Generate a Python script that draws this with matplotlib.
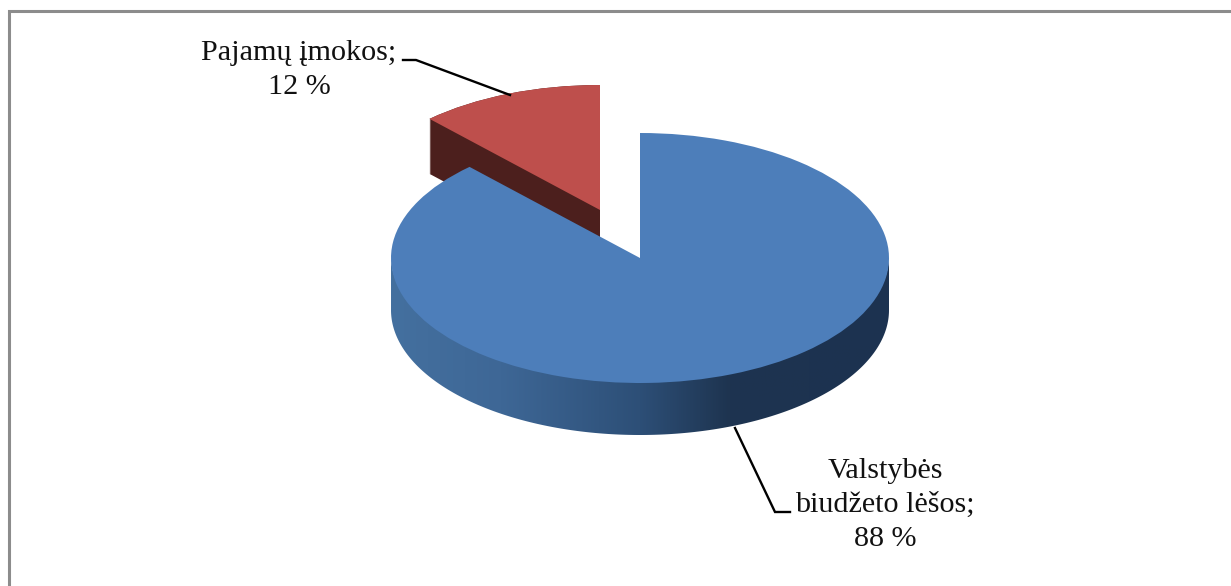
import numpy as np
import matplotlib
matplotlib.use("Agg")
import matplotlib.pyplot as plt
from matplotlib.colors import LinearSegmentedColormap
from matplotlib.patches import Polygon

labels = ["Valstybės\nbiudžeto lėšos;\n88 %", "Pajamų įmokos;\n12 %"]
values = [88, 12]
colors = ["#4D7EBA", "#BE4F4C"]

W, H = 1231, 586
CX, CY, RX, RY = 640, 258, 249, 125
DEPTH = 52


def ux(px):
    return (px - CX) / RX


def uy(py):
    return (CY - py) / RY


fig = plt.figure(figsize=(W / 100, H / 100), dpi=100, facecolor="white")
ax = fig.add_axes([0, 0, 1, 1])

# exploded slice: extruded dark side, then top face
red_center = (ux(600), uy(210))
for d in range(0, 56):
    ax.pie([values[1] / 100], normalize=False, startangle=90, counterclock=True,
           center=(red_center[0], red_center[1] - d / RY), colors=["#4C1F1D"],
           wedgeprops=dict(zorder=1, linewidth=0))
ax.pie([values[1] / 100], normalize=False, startangle=90, counterclock=True,
       center=red_center, colors=[colors[1]], wedgeprops=dict(zorder=2, linewidth=0))

# side wall of the large slice with a horizontal gradient
cmap = LinearSegmentedColormap.from_list(
    "side", [(0.0, "#44709F"), (0.22, "#3E6796"), (0.5, "#2D4F77"),
             (0.68, "#1E3450"), (1.0, "#1C3250")])
t = np.linspace(np.pi, 2 * np.pi, 300)
upper = np.c_[np.cos(t), np.sin(t)]
lower = np.c_[np.cos(t[::-1]), np.sin(t[::-1]) - DEPTH / RY]
clip = Polygon(np.r_[upper + [0, 0.02], lower], closed=True, transform=ax.transData,
               facecolor="none", edgecolor="none")
ax.add_patch(clip)
im = ax.imshow(np.linspace(0, 1, 256)[None, :], cmap=cmap, aspect="auto",
               extent=(-1, 1, uy(CY + 125 + DEPTH), 0), zorder=3)
im.set_clip_path(clip)

# top face of the large slice
ax.pie([values[0] / 100], normalize=False, startangle=90, counterclock=False,
       center=(0, 0), colors=[colors[0]], wedgeprops=dict(zorder=4, linewidth=0))

ax.set_aspect("auto")
ax.set_xlim(ux(0), ux(W))
ax.set_ylim(uy(H), uy(0))
ax.axis("off")

# leader lines
ax.plot([ux(403), ux(416), ux(510)], [uy(60), uy(60), uy(95)], color="black", lw=1.7,
        zorder=2.5, solid_joinstyle="miter")
ax.plot([ux(735), ux(775), ux(790)], [uy(428), uy(512), uy(512)], color="black", lw=1.7,
        zorder=2.5, solid_joinstyle="miter")

# labels
font = dict(family="Liberation Serif", fontsize=21.7, color="#111111", ha="center",
            va="center", linespacing=1.4, zorder=6)
ax.text(ux(885), uy(505), labels[0], **font)
ax.text(ux(299), uy(70), labels[1], **font)

# outer frame
ax.plot([ux(9.5), ux(9.5), ux(W)], [uy(H), uy(10.5), uy(10.5)], color="#8C8C8C", lw=2.2,
        zorder=7, solid_joinstyle="miter", clip_on=False)

fig.savefig("out.png", dpi=100, facecolor="white")
